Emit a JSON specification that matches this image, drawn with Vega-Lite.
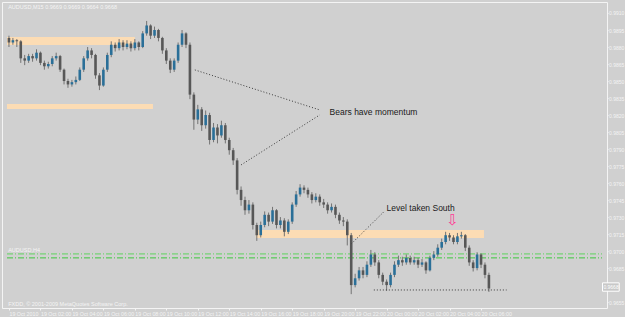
{
  "$schema": "https://vega.github.io/schema/vega-lite/v6.json",
  "width": 605,
  "height": 306,
  "autosize": {"type": "none"},
  "padding": {"left": 2, "top": 2, "right": 18, "bottom": 9},
  "background": "#d0d0d0",
  "config": {
    "view": {"stroke": "#f4f4f4", "strokeWidth": 1, "fill": "#d0d0d0"},
    "font": "Liberation Sans",
    "axis": {"grid": false, "domain": false, "ticks": true, "tickSize": 1, "tickColor": "#f4f4f4", "labelColor": "#f4f4f4", "labelFontSize": 5, "labelFont": "Liberation Sans", "labelPadding": 0.5, "labelOverlap": false, "labelFlush": false},
    "axisX": {"labelAlign": "left", "tickSize": 2, "labelPadding": 1, "labelFontSize": 5.3}
  },
  "datasets": {
    "bars": [
      {"i":0,"o":0.9888,"h":0.9890,"l":0.9880,"c":0.9884},
      {"i":1,"o":0.9884,"h":0.9888,"l":0.9882,"c":0.9886},
      {"i":2,"o":0.9886,"h":0.9887,"l":0.9880,"c":0.9885},
      {"i":3,"o":0.9885,"h":0.9886,"l":0.9866,"c":0.9870},
      {"i":4,"o":0.9870,"h":0.9873,"l":0.9864,"c":0.9868},
      {"i":5,"o":0.9868,"h":0.9874,"l":0.9866,"c":0.9872},
      {"i":6,"o":0.9872,"h":0.9874,"l":0.9867,"c":0.9870},
      {"i":7,"o":0.9870,"h":0.9878,"l":0.9868,"c":0.9875},
      {"i":8,"o":0.9875,"h":0.9876,"l":0.9864,"c":0.9866},
      {"i":9,"o":0.9866,"h":0.9868,"l":0.9860,"c":0.9863},
      {"i":10,"o":0.9863,"h":0.9867,"l":0.9861,"c":0.9865},
      {"i":11,"o":0.9865,"h":0.9872,"l":0.9863,"c":0.9870},
      {"i":12,"o":0.9870,"h":0.9875,"l":0.9868,"c":0.9872},
      {"i":13,"o":0.9872,"h":0.9873,"l":0.9858,"c":0.9860},
      {"i":14,"o":0.9860,"h":0.9861,"l":0.9847,"c":0.9850},
      {"i":15,"o":0.9850,"h":0.9852,"l":0.9844,"c":0.9847},
      {"i":16,"o":0.9847,"h":0.9851,"l":0.9845,"c":0.9849},
      {"i":17,"o":0.9849,"h":0.9854,"l":0.9847,"c":0.9851},
      {"i":18,"o":0.9851,"h":0.9862,"l":0.9850,"c":0.9860},
      {"i":19,"o":0.9860,"h":0.9872,"l":0.9858,"c":0.9870},
      {"i":20,"o":0.9870,"h":0.9880,"l":0.9868,"c":0.9877},
      {"i":21,"o":0.9877,"h":0.9879,"l":0.9870,"c":0.9873},
      {"i":22,"o":0.9873,"h":0.9874,"l":0.9852,"c":0.9855},
      {"i":23,"o":0.9855,"h":0.9857,"l":0.9842,"c":0.9846},
      {"i":24,"o":0.9846,"h":0.9862,"l":0.9845,"c":0.9860},
      {"i":25,"o":0.9860,"h":0.9875,"l":0.9858,"c":0.9873},
      {"i":26,"o":0.9873,"h":0.9885,"l":0.9871,"c":0.9882},
      {"i":27,"o":0.9882,"h":0.9884,"l":0.9876,"c":0.9879},
      {"i":28,"o":0.9879,"h":0.9887,"l":0.9877,"c":0.9884},
      {"i":29,"o":0.9884,"h":0.9886,"l":0.9877,"c":0.9880},
      {"i":30,"o":0.9880,"h":0.9886,"l":0.9878,"c":0.9883},
      {"i":31,"o":0.9883,"h":0.9885,"l":0.9876,"c":0.9879},
      {"i":32,"o":0.9879,"h":0.9887,"l":0.9877,"c":0.9884},
      {"i":33,"o":0.9884,"h":0.9885,"l":0.9877,"c":0.9880},
      {"i":34,"o":0.9880,"h":0.9894,"l":0.9879,"c":0.9892},
      {"i":35,"o":0.9892,"h":0.9903,"l":0.9890,"c":0.9899},
      {"i":36,"o":0.9899,"h":0.9900,"l":0.9887,"c":0.9890},
      {"i":37,"o":0.9890,"h":0.9898,"l":0.9888,"c":0.9895},
      {"i":38,"o":0.9895,"h":0.9896,"l":0.9885,"c":0.9888},
      {"i":39,"o":0.9888,"h":0.9889,"l":0.9874,"c":0.9877},
      {"i":40,"o":0.9877,"h":0.9879,"l":0.9865,"c":0.9868},
      {"i":41,"o":0.9868,"h":0.9870,"l":0.9857,"c":0.9860},
      {"i":42,"o":0.9860,"h":0.9870,"l":0.9858,"c":0.9868},
      {"i":43,"o":0.9868,"h":0.9884,"l":0.9866,"c":0.9882},
      {"i":44,"o":0.9882,"h":0.9895,"l":0.9880,"c":0.9892},
      {"i":45,"o":0.9892,"h":0.9893,"l":0.9879,"c":0.9882},
      {"i":46,"o":0.9882,"h":0.9884,"l":0.9834,"c":0.9838},
      {"i":47,"o":0.9838,"h":0.9840,"l":0.9807,"c":0.9816},
      {"i":48,"o":0.9816,"h":0.9829,"l":0.9812,"c":0.9825},
      {"i":49,"o":0.9825,"h":0.9827,"l":0.9806,"c":0.9811},
      {"i":50,"o":0.9811,"h":0.9824,"l":0.9808,"c":0.9820},
      {"i":51,"o":0.9820,"h":0.9822,"l":0.9794,"c":0.9798},
      {"i":52,"o":0.9798,"h":0.9813,"l":0.9796,"c":0.9809},
      {"i":53,"o":0.9809,"h":0.9812,"l":0.9795,"c":0.9802},
      {"i":54,"o":0.9802,"h":0.9815,"l":0.9800,"c":0.9811},
      {"i":55,"o":0.9811,"h":0.9813,"l":0.9795,"c":0.9798},
      {"i":56,"o":0.9798,"h":0.9800,"l":0.9785,"c":0.9789},
      {"i":57,"o":0.9789,"h":0.9791,"l":0.9776,"c":0.9780},
      {"i":58,"o":0.9780,"h":0.9782,"l":0.9750,"c":0.9754},
      {"i":59,"o":0.9754,"h":0.9757,"l":0.9740,"c":0.9745},
      {"i":60,"o":0.9745,"h":0.9748,"l":0.9732,"c":0.9736},
      {"i":61,"o":0.9736,"h":0.9745,"l":0.9733,"c":0.9741},
      {"i":62,"o":0.9741,"h":0.9743,"l":0.9719,"c":0.9723},
      {"i":63,"o":0.9723,"h":0.9725,"l":0.9709,"c":0.9714},
      {"i":64,"o":0.9714,"h":0.9726,"l":0.9712,"c":0.9723},
      {"i":65,"o":0.9723,"h":0.9735,"l":0.9721,"c":0.9732},
      {"i":66,"o":0.9732,"h":0.9734,"l":0.9722,"c":0.9726},
      {"i":67,"o":0.9726,"h":0.9739,"l":0.9724,"c":0.9736},
      {"i":68,"o":0.9736,"h":0.9737,"l":0.9720,"c":0.9723},
      {"i":69,"o":0.9723,"h":0.9730,"l":0.9720,"c":0.9727},
      {"i":70,"o":0.9727,"h":0.9729,"l":0.9713,"c":0.9717},
      {"i":71,"o":0.9717,"h":0.9728,"l":0.9715,"c":0.9726},
      {"i":72,"o":0.9726,"h":0.9743,"l":0.9724,"c":0.9741},
      {"i":73,"o":0.9741,"h":0.9753,"l":0.9739,"c":0.9750},
      {"i":74,"o":0.9750,"h":0.9759,"l":0.9748,"c":0.9756},
      {"i":75,"o":0.9756,"h":0.9758,"l":0.9751,"c":0.9754},
      {"i":76,"o":0.9754,"h":0.9756,"l":0.9747,"c":0.9750},
      {"i":77,"o":0.9750,"h":0.9752,"l":0.9742,"c":0.9745},
      {"i":78,"o":0.9745,"h":0.9751,"l":0.9743,"c":0.9748},
      {"i":79,"o":0.9748,"h":0.9750,"l":0.9740,"c":0.9743},
      {"i":80,"o":0.9743,"h":0.9746,"l":0.9738,"c":0.9741},
      {"i":81,"o":0.9741,"h":0.9743,"l":0.9733,"c":0.9736},
      {"i":82,"o":0.9736,"h":0.9742,"l":0.9734,"c":0.9739},
      {"i":83,"o":0.9739,"h":0.9741,"l":0.9729,"c":0.9732},
      {"i":84,"o":0.9732,"h":0.9734,"l":0.9724,"c":0.9727},
      {"i":85,"o":0.9727,"h":0.9730,"l":0.9722,"c":0.9726},
      {"i":86,"o":0.9726,"h":0.9728,"l":0.9705,"c":0.9714},
      {"i":87,"o":0.9714,"h":0.9716,"l":0.9662,"c":0.9670},
      {"i":88,"o":0.9670,"h":0.9680,"l":0.9668,"c":0.9676},
      {"i":89,"o":0.9676,"h":0.9686,"l":0.9674,"c":0.9683},
      {"i":90,"o":0.9683,"h":0.9686,"l":0.9676,"c":0.9679},
      {"i":91,"o":0.9679,"h":0.9691,"l":0.9677,"c":0.9688},
      {"i":92,"o":0.9688,"h":0.9701,"l":0.9686,"c":0.9697},
      {"i":93,"o":0.9697,"h":0.9699,"l":0.9687,"c":0.9690},
      {"i":94,"o":0.9690,"h":0.9692,"l":0.9676,"c":0.9679},
      {"i":95,"o":0.9679,"h":0.9681,"l":0.9670,"c":0.9673},
      {"i":96,"o":0.9673,"h":0.9675,"l":0.9665,"c":0.9670},
      {"i":97,"o":0.9670,"h":0.9681,"l":0.9668,"c":0.9679},
      {"i":98,"o":0.9679,"h":0.9691,"l":0.9677,"c":0.9688},
      {"i":99,"o":0.9688,"h":0.9696,"l":0.9686,"c":0.9692},
      {"i":100,"o":0.9692,"h":0.9695,"l":0.9687,"c":0.9690},
      {"i":101,"o":0.9690,"h":0.9697,"l":0.9688,"c":0.9694},
      {"i":102,"o":0.9694,"h":0.9696,"l":0.9688,"c":0.9690},
      {"i":103,"o":0.9690,"h":0.9695,"l":0.9688,"c":0.9692},
      {"i":104,"o":0.9692,"h":0.9694,"l":0.9685,"c":0.9688},
      {"i":105,"o":0.9688,"h":0.9693,"l":0.9686,"c":0.9690},
      {"i":106,"o":0.9690,"h":0.9691,"l":0.9680,"c":0.9683},
      {"i":107,"o":0.9683,"h":0.9696,"l":0.9682,"c":0.9694},
      {"i":108,"o":0.9694,"h":0.9700,"l":0.9692,"c":0.9697},
      {"i":109,"o":0.9697,"h":0.9706,"l":0.9695,"c":0.9703},
      {"i":110,"o":0.9703,"h":0.9711,"l":0.9701,"c":0.9708},
      {"i":111,"o":0.9708,"h":0.9717,"l":0.9706,"c":0.9714},
      {"i":112,"o":0.9714,"h":0.9716,"l":0.9709,"c":0.9712},
      {"i":113,"o":0.9712,"h":0.9714,"l":0.9706,"c":0.9708},
      {"i":114,"o":0.9708,"h":0.9716,"l":0.9706,"c":0.9713},
      {"i":115,"o":0.9713,"h":0.9717,"l":0.9711,"c":0.9714},
      {"i":116,"o":0.9714,"h":0.9715,"l":0.9700,"c":0.9703},
      {"i":117,"o":0.9703,"h":0.9705,"l":0.9687,"c":0.9690},
      {"i":118,"o":0.9690,"h":0.9692,"l":0.9682,"c":0.9685},
      {"i":119,"o":0.9685,"h":0.9699,"l":0.9683,"c":0.9697},
      {"i":120,"o":0.9697,"h":0.9698,"l":0.9685,"c":0.9688},
      {"i":121,"o":0.9688,"h":0.9690,"l":0.9676,"c":0.9679},
      {"i":122,"o":0.9679,"h":0.9681,"l":0.9664,"c":0.9667}
    ],
    "bands": [
      {"x1":-0.5,"x2":32,"p1":0.98889,"p2":0.98818},
      {"x1":-0.5,"x2":36.6,"p1":0.98298,"p2":0.98254},
      {"x1":62.75,"x2":120.75,"p1":0.97186,"p2":0.97116}
    ],
    "greens": [
      {"x1":-0.5,"x2":150.75,"p":0.96975,"col":"#5fd35f"},
      {"x1":-0.5,"x2":150.75,"p":0.96940,"col":"#3cc83c"}
    ],
    "dots": [
      {"x1":47.25,"y1":0.98598,"x2":79,"y2":0.98245},
      {"x1":59,"y1":0.97760,"x2":79,"y2":0.98201},
      {"x1":95.25,"y1":0.97345,"x2":87,"y2":0.97063},
      {"x1":92.75,"y1":0.96657,"x2":126.5,"y2":0.96657}
    ],
    "notes": [
      {"x":81.5,"p":0.98227,"t":"Bears have momentum"},
      {"x":96,"p":0.97380,"t":"Level taken South"}
    ],
    "arrow": [{"x":112.75,"p":0.97275,"t":"⇩"}],
    "info": [
      {"x":-0.2,"p":0.99153,"t":"AUDUSD,M15  0.9669 0.9669 0.9664 0.9668"},
      {"x":-0.2,"p":0.96534,"t":"FXDD, © 2001-2009 MetaQuotes Software Corp."},
      {"x":-0.2,"p":0.97010,"t":"AUDUSD,H4"}
    ],
    "pricebox": [{"x1":150.875,"x2":155.125,"p1":0.96720,"p2":0.96646,"xt":151.1,"pt":0.96683,"t":"0.9668"}]
  },
  "layer": [
    {
      "data": {"name": "bands"},
      "mark": {"type": "rect", "color": "#fcdcb4"},
      "encoding": {
        "x": {"field": "x1", "type": "quantitative", "scale": {"domain": [-0.5, 150.75], "nice": false, "zero": false},
          "axis": {"title": null, "orient": "bottom", "values": [0, 8, 16, 24, 32, 40, 48, 56, 64, 72, 80, 88, 96, 104, 112, 120],
            "labelExpr": "['19 Oct 2010','19 Oct 02:00','19 Oct 04:00','19 Oct 06:00','19 Oct 08:00','19 Oct 10:00','19 Oct 12:00','19 Oct 14:00','19 Oct 16:00','19 Oct 18:00','19 Oct 20:00','19 Oct 22:00','20 Oct 00:00','20 Oct 02:00','20 Oct 04:00','20 Oct 06:00'][round(datum.value/8)]"}},
        "x2": {"field": "x2"},
        "y": {"field": "p1", "type": "quantitative", "scale": {"domain": [0.96498, 0.99197], "nice": false, "zero": false},
          "axis": {"title": null, "orient": "right", "format": ".4f", "values": [0.9655, 0.9685, 0.9700, 0.9715, 0.9730, 0.9745, 0.9760, 0.9775, 0.9790, 0.9805, 0.9820, 0.9835, 0.9850, 0.9865, 0.9880, 0.9895, 0.9910]}},
        "y2": {"field": "p2"}
      }
    },
    {
      "data": {"name": "greens"},
      "mark": {"type": "rule", "strokeDash": [6, 2, 1, 2], "strokeWidth": 1},
      "encoding": {
        "x": {"field": "x1", "type": "quantitative", "scale": {"domain": [-0.5, 150.75], "nice": false, "zero": false},
          "axis": {"title": null, "orient": "bottom", "values": [0, 8, 16, 24, 32, 40, 48, 56, 64, 72, 80, 88, 96, 104, 112, 120],
            "labelExpr": "['19 Oct 2010','19 Oct 02:00','19 Oct 04:00','19 Oct 06:00','19 Oct 08:00','19 Oct 10:00','19 Oct 12:00','19 Oct 14:00','19 Oct 16:00','19 Oct 18:00','19 Oct 20:00','19 Oct 22:00','20 Oct 00:00','20 Oct 02:00','20 Oct 04:00','20 Oct 06:00'][round(datum.value/8)]"}},
        "x2": {"field": "x2"},
        "y": {"field": "p", "type": "quantitative", "scale": {"domain": [0.96498, 0.99197], "nice": false, "zero": false},
          "axis": {"title": null, "orient": "right", "format": ".4f", "values": [0.9655, 0.9685, 0.9700, 0.9715, 0.9730, 0.9745, 0.9760, 0.9775, 0.9790, 0.9805, 0.9820, 0.9835, 0.9850, 0.9865, 0.9880, 0.9895, 0.9910]}},
        "color": {"field": "col", "type": "nominal", "scale": null}
      }
    },
    {
      "data": {"name": "bars"},
      "mark": {"type": "rule", "color": "#737373", "strokeWidth": 1},
      "encoding": {
        "x": {"field": "i", "type": "quantitative", "scale": {"domain": [-0.5, 150.75], "nice": false, "zero": false},
          "axis": {"title": null, "orient": "bottom", "values": [0, 8, 16, 24, 32, 40, 48, 56, 64, 72, 80, 88, 96, 104, 112, 120],
            "labelExpr": "['19 Oct 2010','19 Oct 02:00','19 Oct 04:00','19 Oct 06:00','19 Oct 08:00','19 Oct 10:00','19 Oct 12:00','19 Oct 14:00','19 Oct 16:00','19 Oct 18:00','19 Oct 20:00','19 Oct 22:00','20 Oct 00:00','20 Oct 02:00','20 Oct 04:00','20 Oct 06:00'][round(datum.value/8)]"}},
        "y": {"field": "l", "type": "quantitative", "scale": {"domain": [0.96498, 0.99197], "nice": false, "zero": false},
          "axis": {"title": null, "orient": "right", "format": ".4f", "values": [0.9655, 0.9685, 0.9700, 0.9715, 0.9730, 0.9745, 0.9760, 0.9775, 0.9790, 0.9805, 0.9820, 0.9835, 0.9850, 0.9865, 0.9880, 0.9895, 0.9910]}},
        "y2": {"field": "h"}
      }
    },
    {
      "data": {"name": "bars"},
      "mark": {"type": "bar", "orient": "vertical", "width": 2.6},
      "encoding": {
        "x": {"field": "i", "type": "quantitative", "scale": {"domain": [-0.5, 150.75], "nice": false, "zero": false},
          "axis": {"title": null, "orient": "bottom", "values": [0, 8, 16, 24, 32, 40, 48, 56, 64, 72, 80, 88, 96, 104, 112, 120],
            "labelExpr": "['19 Oct 2010','19 Oct 02:00','19 Oct 04:00','19 Oct 06:00','19 Oct 08:00','19 Oct 10:00','19 Oct 12:00','19 Oct 14:00','19 Oct 16:00','19 Oct 18:00','19 Oct 20:00','19 Oct 22:00','20 Oct 00:00','20 Oct 02:00','20 Oct 04:00','20 Oct 06:00'][round(datum.value/8)]"}},
        "y": {"field": "o", "type": "quantitative", "scale": {"domain": [0.96498, 0.99197], "nice": false, "zero": false},
          "axis": {"title": null, "orient": "right", "format": ".4f", "values": [0.9655, 0.9685, 0.9700, 0.9715, 0.9730, 0.9745, 0.9760, 0.9775, 0.9790, 0.9805, 0.9820, 0.9835, 0.9850, 0.9865, 0.9880, 0.9895, 0.9910]}},
        "y2": {"field": "c"},
        "color": {"condition": {"test": "datum.c > datum.o", "value": "#2a6f98"}, "value": "#575757"}
      }
    },
    {
      "data": {"name": "dots"},
      "mark": {"type": "rule", "color": "#3a3a3a", "strokeDash": [1, 2], "strokeWidth": 1},
      "encoding": {
        "x": {"field": "x1", "type": "quantitative", "scale": {"domain": [-0.5, 150.75], "nice": false, "zero": false},
          "axis": {"title": null, "orient": "bottom", "values": [0, 8, 16, 24, 32, 40, 48, 56, 64, 72, 80, 88, 96, 104, 112, 120],
            "labelExpr": "['19 Oct 2010','19 Oct 02:00','19 Oct 04:00','19 Oct 06:00','19 Oct 08:00','19 Oct 10:00','19 Oct 12:00','19 Oct 14:00','19 Oct 16:00','19 Oct 18:00','19 Oct 20:00','19 Oct 22:00','20 Oct 00:00','20 Oct 02:00','20 Oct 04:00','20 Oct 06:00'][round(datum.value/8)]"}},
        "x2": {"field": "x2"},
        "y": {"field": "y1", "type": "quantitative", "scale": {"domain": [0.96498, 0.99197], "nice": false, "zero": false},
          "axis": {"title": null, "orient": "right", "format": ".4f", "values": [0.9655, 0.9685, 0.9700, 0.9715, 0.9730, 0.9745, 0.9760, 0.9775, 0.9790, 0.9805, 0.9820, 0.9835, 0.9850, 0.9865, 0.9880, 0.9895, 0.9910]}},
        "y2": {"field": "y2"}
      }
    },
    {
      "data": {"name": "notes"},
      "mark": {"type": "text", "align": "left", "baseline": "middle", "fontSize": 8.5, "color": "#1a1a1a", "font": "Liberation Sans"},
      "encoding": {
        "x": {"field": "x", "type": "quantitative", "scale": {"domain": [-0.5, 150.75], "nice": false, "zero": false},
          "axis": {"title": null, "orient": "bottom", "values": [0, 8, 16, 24, 32, 40, 48, 56, 64, 72, 80, 88, 96, 104, 112, 120],
            "labelExpr": "['19 Oct 2010','19 Oct 02:00','19 Oct 04:00','19 Oct 06:00','19 Oct 08:00','19 Oct 10:00','19 Oct 12:00','19 Oct 14:00','19 Oct 16:00','19 Oct 18:00','19 Oct 20:00','19 Oct 22:00','20 Oct 00:00','20 Oct 02:00','20 Oct 04:00','20 Oct 06:00'][round(datum.value/8)]"}},
        "y": {"field": "p", "type": "quantitative", "scale": {"domain": [0.96498, 0.99197], "nice": false, "zero": false},
          "axis": {"title": null, "orient": "right", "format": ".4f", "values": [0.9655, 0.9685, 0.9700, 0.9715, 0.9730, 0.9745, 0.9760, 0.9775, 0.9790, 0.9805, 0.9820, 0.9835, 0.9850, 0.9865, 0.9880, 0.9895, 0.9910]}},
        "text": {"field": "t"}
      }
    },
    {
      "data": {"name": "arrow"},
      "mark": {"type": "text", "align": "center", "baseline": "middle", "fontSize": 15, "color": "#ff3c96", "font": "DejaVu Sans"},
      "encoding": {
        "x": {"field": "x", "type": "quantitative", "scale": {"domain": [-0.5, 150.75], "nice": false, "zero": false},
          "axis": {"title": null, "orient": "bottom", "values": [0, 8, 16, 24, 32, 40, 48, 56, 64, 72, 80, 88, 96, 104, 112, 120],
            "labelExpr": "['19 Oct 2010','19 Oct 02:00','19 Oct 04:00','19 Oct 06:00','19 Oct 08:00','19 Oct 10:00','19 Oct 12:00','19 Oct 14:00','19 Oct 16:00','19 Oct 18:00','19 Oct 20:00','19 Oct 22:00','20 Oct 00:00','20 Oct 02:00','20 Oct 04:00','20 Oct 06:00'][round(datum.value/8)]"}},
        "y": {"field": "p", "type": "quantitative", "scale": {"domain": [0.96498, 0.99197], "nice": false, "zero": false},
          "axis": {"title": null, "orient": "right", "format": ".4f", "values": [0.9655, 0.9685, 0.9700, 0.9715, 0.9730, 0.9745, 0.9760, 0.9775, 0.9790, 0.9805, 0.9820, 0.9835, 0.9850, 0.9865, 0.9880, 0.9895, 0.9910]}},
        "text": {"field": "t"}
      }
    },
    {
      "data": {"name": "info"},
      "mark": {"type": "text", "align": "left", "baseline": "middle", "fontSize": 5.5, "color": "#f4f4f4", "font": "Liberation Sans"},
      "encoding": {
        "x": {"field": "x", "type": "quantitative", "scale": {"domain": [-0.5, 150.75], "nice": false, "zero": false},
          "axis": {"title": null, "orient": "bottom", "values": [0, 8, 16, 24, 32, 40, 48, 56, 64, 72, 80, 88, 96, 104, 112, 120],
            "labelExpr": "['19 Oct 2010','19 Oct 02:00','19 Oct 04:00','19 Oct 06:00','19 Oct 08:00','19 Oct 10:00','19 Oct 12:00','19 Oct 14:00','19 Oct 16:00','19 Oct 18:00','19 Oct 20:00','19 Oct 22:00','20 Oct 00:00','20 Oct 02:00','20 Oct 04:00','20 Oct 06:00'][round(datum.value/8)]"}},
        "y": {"field": "p", "type": "quantitative", "scale": {"domain": [0.96498, 0.99197], "nice": false, "zero": false},
          "axis": {"title": null, "orient": "right", "format": ".4f", "values": [0.9655, 0.9685, 0.9700, 0.9715, 0.9730, 0.9745, 0.9760, 0.9775, 0.9790, 0.9805, 0.9820, 0.9835, 0.9850, 0.9865, 0.9880, 0.9895, 0.9910]}},
        "text": {"field": "t"}
      }
    },
    {
      "data": {"name": "pricebox"},
      "mark": {"type": "rect", "fill": "#c8c8c8", "stroke": "#ffffff", "strokeWidth": 1},
      "encoding": {
        "x": {"field": "x1", "type": "quantitative", "scale": {"domain": [-0.5, 150.75], "nice": false, "zero": false},
          "axis": {"title": null, "orient": "bottom", "values": [0, 8, 16, 24, 32, 40, 48, 56, 64, 72, 80, 88, 96, 104, 112, 120],
            "labelExpr": "['19 Oct 2010','19 Oct 02:00','19 Oct 04:00','19 Oct 06:00','19 Oct 08:00','19 Oct 10:00','19 Oct 12:00','19 Oct 14:00','19 Oct 16:00','19 Oct 18:00','19 Oct 20:00','19 Oct 22:00','20 Oct 00:00','20 Oct 02:00','20 Oct 04:00','20 Oct 06:00'][round(datum.value/8)]"}},
        "x2": {"field": "x2"},
        "y": {"field": "p1", "type": "quantitative", "scale": {"domain": [0.96498, 0.99197], "nice": false, "zero": false},
          "axis": {"title": null, "orient": "right", "format": ".4f", "values": [0.9655, 0.9685, 0.9700, 0.9715, 0.9730, 0.9745, 0.9760, 0.9775, 0.9790, 0.9805, 0.9820, 0.9835, 0.9850, 0.9865, 0.9880, 0.9895, 0.9910]}},
        "y2": {"field": "p2"}
      }
    },
    {
      "data": {"name": "pricebox"},
      "mark": {"type": "text", "align": "left", "baseline": "middle", "fontSize": 5, "color": "#ffffff", "font": "Liberation Sans"},
      "encoding": {
        "x": {"field": "xt", "type": "quantitative", "scale": {"domain": [-0.5, 150.75], "nice": false, "zero": false},
          "axis": {"title": null, "orient": "bottom", "values": [0, 8, 16, 24, 32, 40, 48, 56, 64, 72, 80, 88, 96, 104, 112, 120],
            "labelExpr": "['19 Oct 2010','19 Oct 02:00','19 Oct 04:00','19 Oct 06:00','19 Oct 08:00','19 Oct 10:00','19 Oct 12:00','19 Oct 14:00','19 Oct 16:00','19 Oct 18:00','19 Oct 20:00','19 Oct 22:00','20 Oct 00:00','20 Oct 02:00','20 Oct 04:00','20 Oct 06:00'][round(datum.value/8)]"}},
        "y": {"field": "pt", "type": "quantitative", "scale": {"domain": [0.96498, 0.99197], "nice": false, "zero": false},
          "axis": {"title": null, "orient": "right", "format": ".4f", "values": [0.9655, 0.9685, 0.9700, 0.9715, 0.9730, 0.9745, 0.9760, 0.9775, 0.9790, 0.9805, 0.9820, 0.9835, 0.9850, 0.9865, 0.9880, 0.9895, 0.9910]}},
        "text": {"field": "t"}
      }
    }
  ]
}
